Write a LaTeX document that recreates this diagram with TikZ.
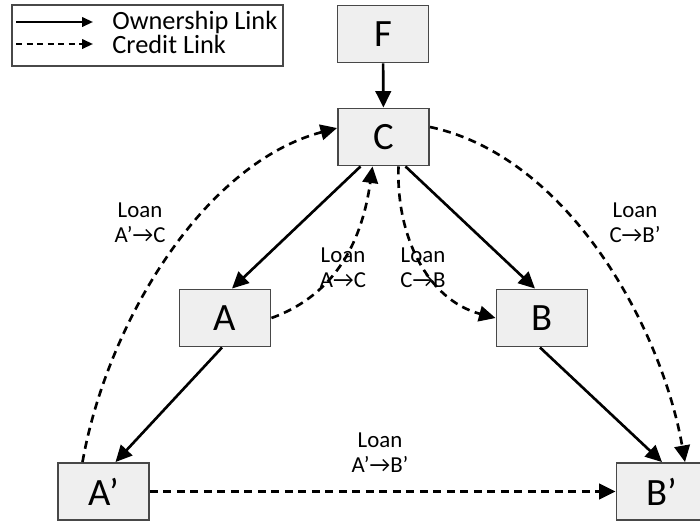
\documentclass[tikz,border=0pt]{standalone}
\usepackage{fontspec}
\setmainfont{Carlito}
\usetikzlibrary{positioning,arrows.meta}
\definecolor{boxfill}{RGB}{239,239,239}
\definecolor{boxline}{RGB}{72,72,72}

\begin{document}
\begin{tikzpicture}[
  entity/.style={rectangle,draw=boxline,fill=boxfill,line width=1.1pt,
    minimum width=1.82cm,minimum height=1.14cm,font=\fontsize{22}{26}\selectfont},
  own/.style={-{Triangle[length=3.3mm,width=3.1mm]},line width=1.5pt},
  credit/.style={own,dash pattern=on 1.6mm off 1.1mm},
  legown/.style={-{Triangle[length=2.2mm,width=1.9mm]},line width=1.3pt},
  legcredit/.style={legown,dash pattern=on 1.2mm off 0.9mm},
  loan/.style={align=center,font=\fontsize{13}{14.2}\selectfont},
  legtext/.style={anchor=west,inner sep=0pt,font=\fontsize{15}{17}\selectfont}
]
\useasboundingbox (0,0) rectangle (14,-10.44);

% legend
\node[draw=boxline,line width=1pt,fill=white,minimum width=5.42cm,minimum height=1.22cm]
  (legend) at (2.95,-0.71) {};
\coordinate (ownA) at (0.32,-0.44);
\coordinate (ownB) at (1.86,-0.44);
\coordinate (credA) at (0.32,-0.88);
\coordinate (credB) at (1.86,-0.88);
\draw[legown] (ownA) -- (ownB);
\draw[legcredit] (credA) -- (credB);
\node[legtext] (ownlbl) at (2.24,-0.44) {Ownership Link};
\node[legtext] (credlbl) at (2.24,-0.88) {Credit Link};

% firms
\node[entity] (F) at (7.66,-0.68) {F};
\node[entity] (C) at (7.67,-2.74) {C};
\node[entity] (A) at (4.5,-6.36) {A};
\node[entity] (B) at (10.84,-6.36) {B};
\node[entity] (Ap) at (2.07,-9.83) {A’};
\node[entity] (Bp) at (13.24,-9.83) {B’};

% ownership
\draw[own] (F) -- (C);
\draw[own] ([xshift=-0.46cm]C.south) -- ([xshift=0.14cm]A.north);
\draw[own] ([xshift=0.44cm]C.south) -- ([xshift=-0.14cm]B.north);
\draw[own] ([xshift=-0.06cm]A.south) -- ([xshift=0.24cm]Ap.north);
\draw[own] ([xshift=-0.04cm]B.south) -- ([xshift=0.0cm]Bp.north);

% loans
\draw[credit] ([xshift=-0.42cm]Ap.north) to[out=80,in=195,looseness=0.85] ([yshift=0.18cm]C.west);
\draw[credit] ([yshift=0.2cm]C.east) to[out=-12,in=100,looseness=0.85] ([xshift=0.46cm]Bp.north);
\draw[credit] (A.east) to[out=20,in=262] ([xshift=-0.22cm]C.south);
\draw[credit] ([xshift=0.3cm]C.south) to[out=-92,in=165] (B.west);
\draw[credit] (Ap) -- (Bp);

\node[loan] (l1) at (2.8,-4.46) {Loan\\A’→C};
\node[loan] (l2) at (12.7,-4.46) {Loan\\C→B’};
\node[loan] (l3) at (6.86,-5.36) {Loan\\A→C};
\node[loan] (l4) at (8.46,-5.36) {Loan\\C→B};
\node[loan] (l5) at (7.6,-9.06) {Loan\\A’→B’};
\end{tikzpicture}
\end{document}
